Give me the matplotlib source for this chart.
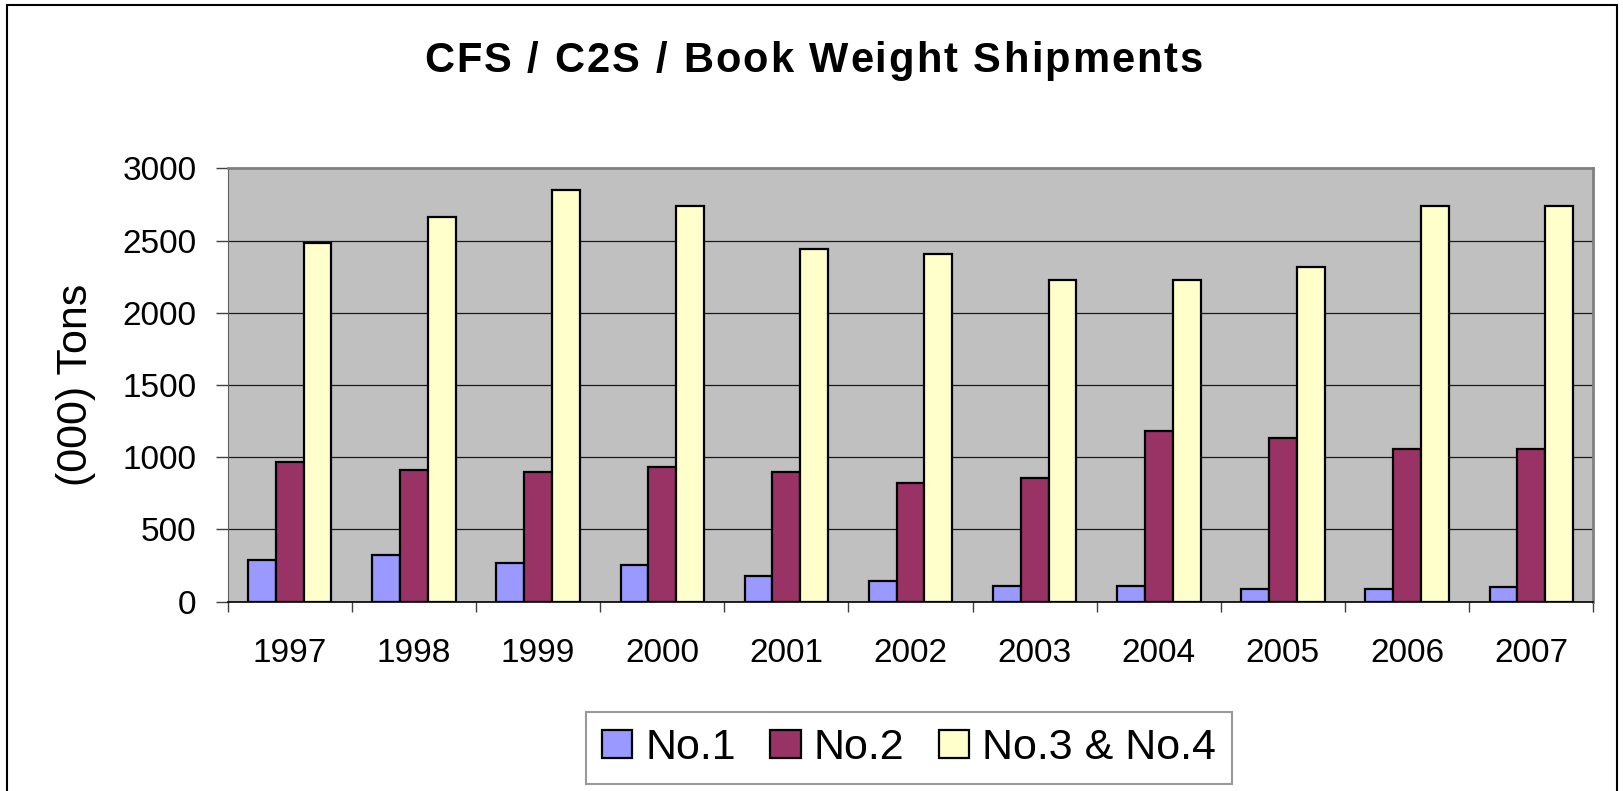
import matplotlib.pyplot as plt
import numpy as np
from matplotlib.patches import Rectangle
from matplotlib.font_manager import FontProperties

plt.rcParams["font.family"] = ["Liberation Sans", "DejaVu Sans"]

# data, (000) tons
years = ["1997", "1998", "1999", "2000", "2001", "2002", "2003", "2004", "2005", "2006", "2007"]
no1 = [290, 325, 270, 255, 180, 145, 110, 110, 90, 90, 105]
no2 = [965, 910, 895, 930, 895, 820, 855, 1185, 1130, 1057, 1057]
no34 = [2480, 2665, 2850, 2740, 2445, 2410, 2228, 2228, 2320, 2740, 2740]

title = "CFS / C2S / Book Weight Shipments"
series = [("No.1", no1, "#9999FF"), ("No.2", no2, "#993366"), ("No.3 & No.4", no34, "#FFFFCC")]

fig = plt.figure(figsize=(16.23, 7.91), dpi=100)
ax = fig.add_axes([0.1403, 0.2393, 0.8414, 0.5479])
ax.set_facecolor("#C0C0C0")

x = np.arange(len(years)) + 0.5
w = 0.224
for i, (name, vals, col) in enumerate(series):
    ax.bar(x + (i - 1) * w, vals, w, color=col, edgecolor="black", linewidth=1.6,
           label=name, zorder=3)

ax.set_xlim(0, len(years))
ax.set_ylim(0, 3000)
ax.set_yticks(range(0, 3001, 500))
ax.yaxis.grid(True, color="#1a1a1a", linewidth=0.9, zorder=1)

# ticks at category boundaries, labels at centres
ax.set_xticks(np.arange(len(years) + 1))
ax.set_xticklabels([])
ax.set_xticks(x, minor=True)
ax.set_xticklabels(years, minor=True)
ax.tick_params(axis="x", which="major", length=7, width=1, color="#404040", direction="out")
ax.tick_params(axis="x", which="minor", length=0, pad=26, labelsize=24)
ax.tick_params(axis="y", length=8.5, width=1, color="#404040", pad=14, labelsize=24)

for s in ["top", "right"]:
    ax.spines[s].set_color("#808080")
    ax.spines[s].set_linewidth(2)
ax.spines["left"].set_color("#606060")
ax.spines["bottom"].set_color("black")
ax.spines["bottom"].set_linewidth(1.2)

ax.set_ylabel("(000) Tons", fontsize=31, labelpad=19)

# title with a bit of letter spacing (Excel-style)
tprop = FontProperties(family="Liberation Sans", weight="bold", size=30)
renderer = fig.canvas.get_renderer()
def text_w(s):
    wd, _, _ = renderer.get_text_width_height_descent(s + "|", tprop, ismath=False)
    wb, _, _ = renderer.get_text_width_height_descent("|", tprop, ismath=False)
    return wd - wb
track = 2.1  # px between letters
total = text_w(title) + track * (len(title) - 1)
x0 = 813.5 - total / 2
for k, ch in enumerate(title):
    if ch == " ":
        continue
    xp = x0 + text_w(title[:k]) + track * k
    fig.text(xp / 1623, 0.909, ch, ha="left", va="baseline", fontproperties=tprop)

leg = ax.legend(loc="center", bbox_to_anchor=(0.5600, 0.0544), bbox_transform=fig.transFigure,
                ncol=3, fontsize=31, frameon=True, fancybox=False, borderpad=0.38,
                handlelength=0.7, handleheight=0.63, handletextpad=0.3, columnspacing=0.8,
                borderaxespad=0)
leg.get_frame().set_edgecolor("#808080")
leg.get_frame().set_linewidth(1.5)

# outer chart border
fig.patches.append(Rectangle((7 / 1623, -0.05), (1617 - 7) / 1623, 1 - 5 / 791 + 0.05,
                             transform=fig.transFigure, fill=False, edgecolor="black",
                             linewidth=1.5))

fig.savefig("out.png", dpi=100)
